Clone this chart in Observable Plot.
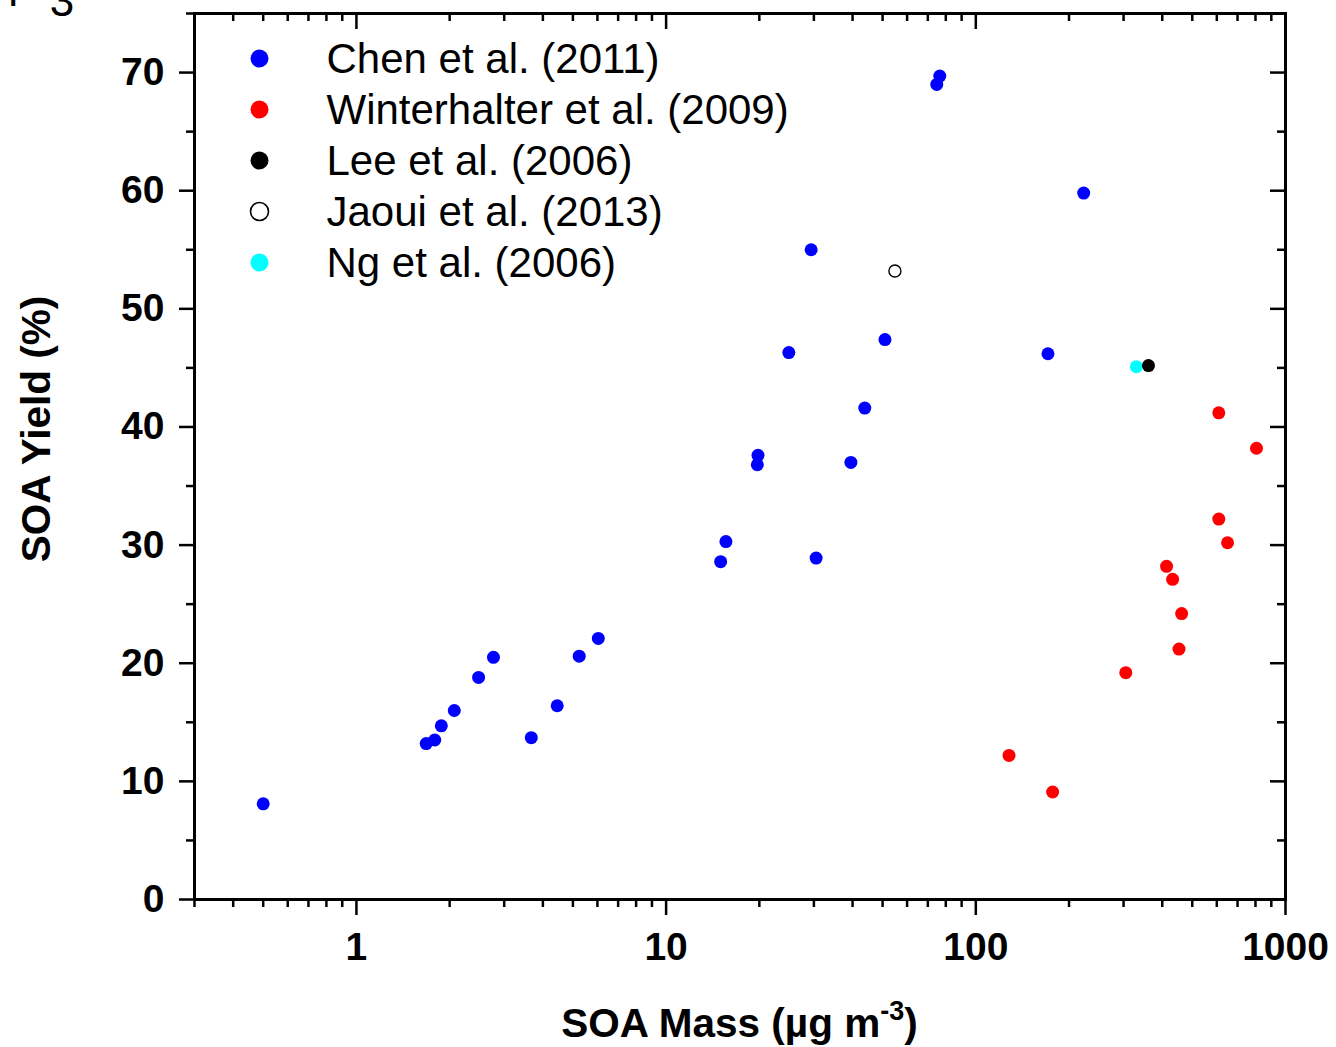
<!DOCTYPE html>
<html>
<head>
<meta charset="utf-8">
<script src="https://cdn.jsdelivr.net/npm/d3@7"></script>
<script src="https://cdn.jsdelivr.net/npm/@observablehq/plot@0.6"></script>
<style>
  body { margin: 0; background: #fff; }
  svg { display: block; }
</style>
</head>
<body>
<div id="chart"></div>
<script>
// ---- data ----
const seriesNames = ["Chen et al. (2011)", "Winterhalter et al. (2009)", "Lee et al. (2006)", "Jaoui et al. (2013)", "Ng et al. (2006)"];
const seriesColors = ["#0000ff", "#ff0000", "#000000", "#ffffff", "#00ffff"];

const chenMass  = [0.5, 1.68, 1.79, 1.88, 2.07, 2.48, 2.77, 3.67, 4.45, 5.24, 6.04, 15.0, 15.6, 19.7, 19.8, 24.9, 29.4, 30.5, 39.5, 43.8, 50.9, 74.8, 76.5, 171, 223];
const chenYield = [8.1, 13.2, 13.5, 14.7, 16.0, 18.8, 20.5, 13.7, 16.4, 20.6, 22.1, 28.6, 30.3, 36.8, 37.6, 46.3, 55.0, 28.9, 37.0, 41.6, 47.4, 69.0, 69.7, 46.2, 59.8];

const winterMass  = [609, 806, 609, 650, 413, 432, 462, 453, 305, 128, 177];
const winterYield = [41.2, 38.2, 32.2, 30.2, 28.2, 27.1, 24.2, 21.2, 19.2, 12.2, 9.1];

const leeMass = [361],   leeYield = [45.2];
const jaouiMass = [54.8], jaouiYield = [53.2];
const ngMass = [330],    ngYield = [45.1];

const xMajorTicks = [1, 10, 100, 1000];
const xMinorTicks = [0.3, 0.4, 0.5, 0.6, 0.7, 0.8, 0.9, 2, 3, 4, 5, 6, 7, 8, 9, 20, 30, 40, 50, 60, 70, 80, 90, 200, 300, 400, 500, 600, 700, 800, 900];
const yMajorTicks = [0, 10, 20, 30, 40, 50, 60, 70];
const yMinorTicks = [5, 15, 25, 35, 45, 55, 65, 75];

const xLabel = "SOA Mass (µg m";
const xLabelSup = "-3";
const yLabel = "SOA Yield (%)";

// ---- build tables ----
function rows(name, xs, ys) { return xs.map((x, i) => ({series: name, mass: x, yield: ys[i]})); }
const chen = rows(seriesNames[0], chenMass, chenYield);
const winter = rows(seriesNames[1], winterMass, winterYield);
const lee = rows(seriesNames[2], leeMass, leeYield);
const jaoui = rows(seriesNames[3], jaouiMass, jaouiYield);
const ng = rows(seriesNames[4], ngMass, ngYield);

const FONT = "'Liberation Sans', Arial, Helvetica, sans-serif";
const W = 1336, H = 1047;
const mL = 194, mR = 51, mT = 13, mB = 148;
const plotW = W - mL - mR, plotH = H - mT - mB;
const TW = 2.5;

const legendMarks = seriesNames.flatMap((name, i) => {
  const hollow = name === seriesNames[3];
  return [
    Plot.dot([name], {
      frameAnchor: "top-left", dx: 65, dy: 45 + 51 * i, r: 9,
      fill: hollow ? "white" : seriesColors[i],
      stroke: hollow ? "black" : "none", strokeWidth: 1.6
    }),
    Plot.text([name], {
      text: d => d, frameAnchor: "top-left", dx: 132, dy: 46 + 51 * i,
      textAnchor: "start", lineAnchor: "middle", fontSize: 42, fill: "black"
    })
  ];
});

const plot = Plot.plot({
  width: W, height: H,
  marginLeft: mL, marginRight: mR, marginTop: mT, marginBottom: mB,
  style: {fontFamily: FONT, background: "white", color: "black"},
  x: {type: "log", domain: [0.3, 1000]},
  y: {domain: [0, 75]},
  color: {domain: seriesNames, range: seriesColors},
  marks: [
    // bottom axis (outward ticks)
    Plot.axisX(xMajorTicks, {tickSize: 16, tickPadding: 17, tickFormat: d => String(d), fontSize: 39, fontWeight: "bold", strokeWidth: TW, label: null}),
    Plot.tickX(xMinorTicks, {x: d => d, insetTop: plotH, insetBottom: -8, strokeWidth: TW}),
    // left axis (outward ticks)
    Plot.axisY(yMajorTicks, {tickSize: 15, tickPadding: 15, fontSize: 39, fontWeight: "bold", strokeWidth: TW, label: null}),
    Plot.tickY(yMinorTicks, {y: d => d, insetLeft: -8, insetRight: plotW, strokeWidth: TW}),
    // top mirror ticks (inward)
    Plot.tickX(xMajorTicks, {x: d => d, insetBottom: plotH - 16, strokeWidth: TW}),
    Plot.tickX(xMinorTicks, {x: d => d, insetBottom: plotH - 8, strokeWidth: TW}),
    // right mirror ticks (inward)
    Plot.tickY(yMajorTicks, {y: d => d, insetLeft: plotW - 15, strokeWidth: TW}),
    Plot.tickY(yMinorTicks, {y: d => d, insetLeft: plotW - 8, strokeWidth: TW}),
    // data
    Plot.dot(chen, {x: "mass", y: "yield", fill: "series", r: 6.5}),
    Plot.dot(winter, {x: "mass", y: "yield", fill: "series", r: 6.5}),
    Plot.dot(ng, {x: "mass", y: "yield", fill: "series", r: 6.5}),
    Plot.dot(lee, {x: "mass", y: "yield", fill: "series", r: 6.5}),
    Plot.dot(jaoui, {x: "mass", y: "yield", fill: "white", stroke: "black", strokeWidth: 1.4, r: 6}),
    ...legendMarks,
    Plot.frame({stroke: "black", strokeWidth: 3})
  ]
});

const svg = d3.select(plot);
// x axis label with superscript
const xt = svg.append("text")
  .attr("x", mL + plotW / 2).attr("y", 1037)
  .attr("text-anchor", "middle")
  .attr("font-family", FONT).attr("font-size", 40.5).attr("font-weight", "bold")
  .attr("fill", "black");
xt.append("tspan").text(xLabel);
xt.append("tspan").attr("font-size", 27).attr("dy", -17).text(xLabelSup);
xt.append("tspan").attr("dy", 17).text(")");
// y axis label
svg.append("text")
  .attr("transform", "translate(50,429) rotate(-90)")
  .attr("text-anchor", "middle")
  .attr("font-family", FONT).attr("font-size", 40.5).attr("font-weight", "bold")
  .attr("fill", "black")
  .text(yLabel);
// cropped fragment of a heading at the top-left edge of the original figure
const frag = svg.append("text")
  .attr("font-family", FONT).attr("font-size", 42).attr("fill", "black")
  .attr("x", -13).attr("y", 6).text("OH");
frag.append("tspan").attr("x", 62).attr("y", 16).attr("font-size", 44).text("3");

document.getElementById("chart").appendChild(plot);
</script>
</body>
</html>
